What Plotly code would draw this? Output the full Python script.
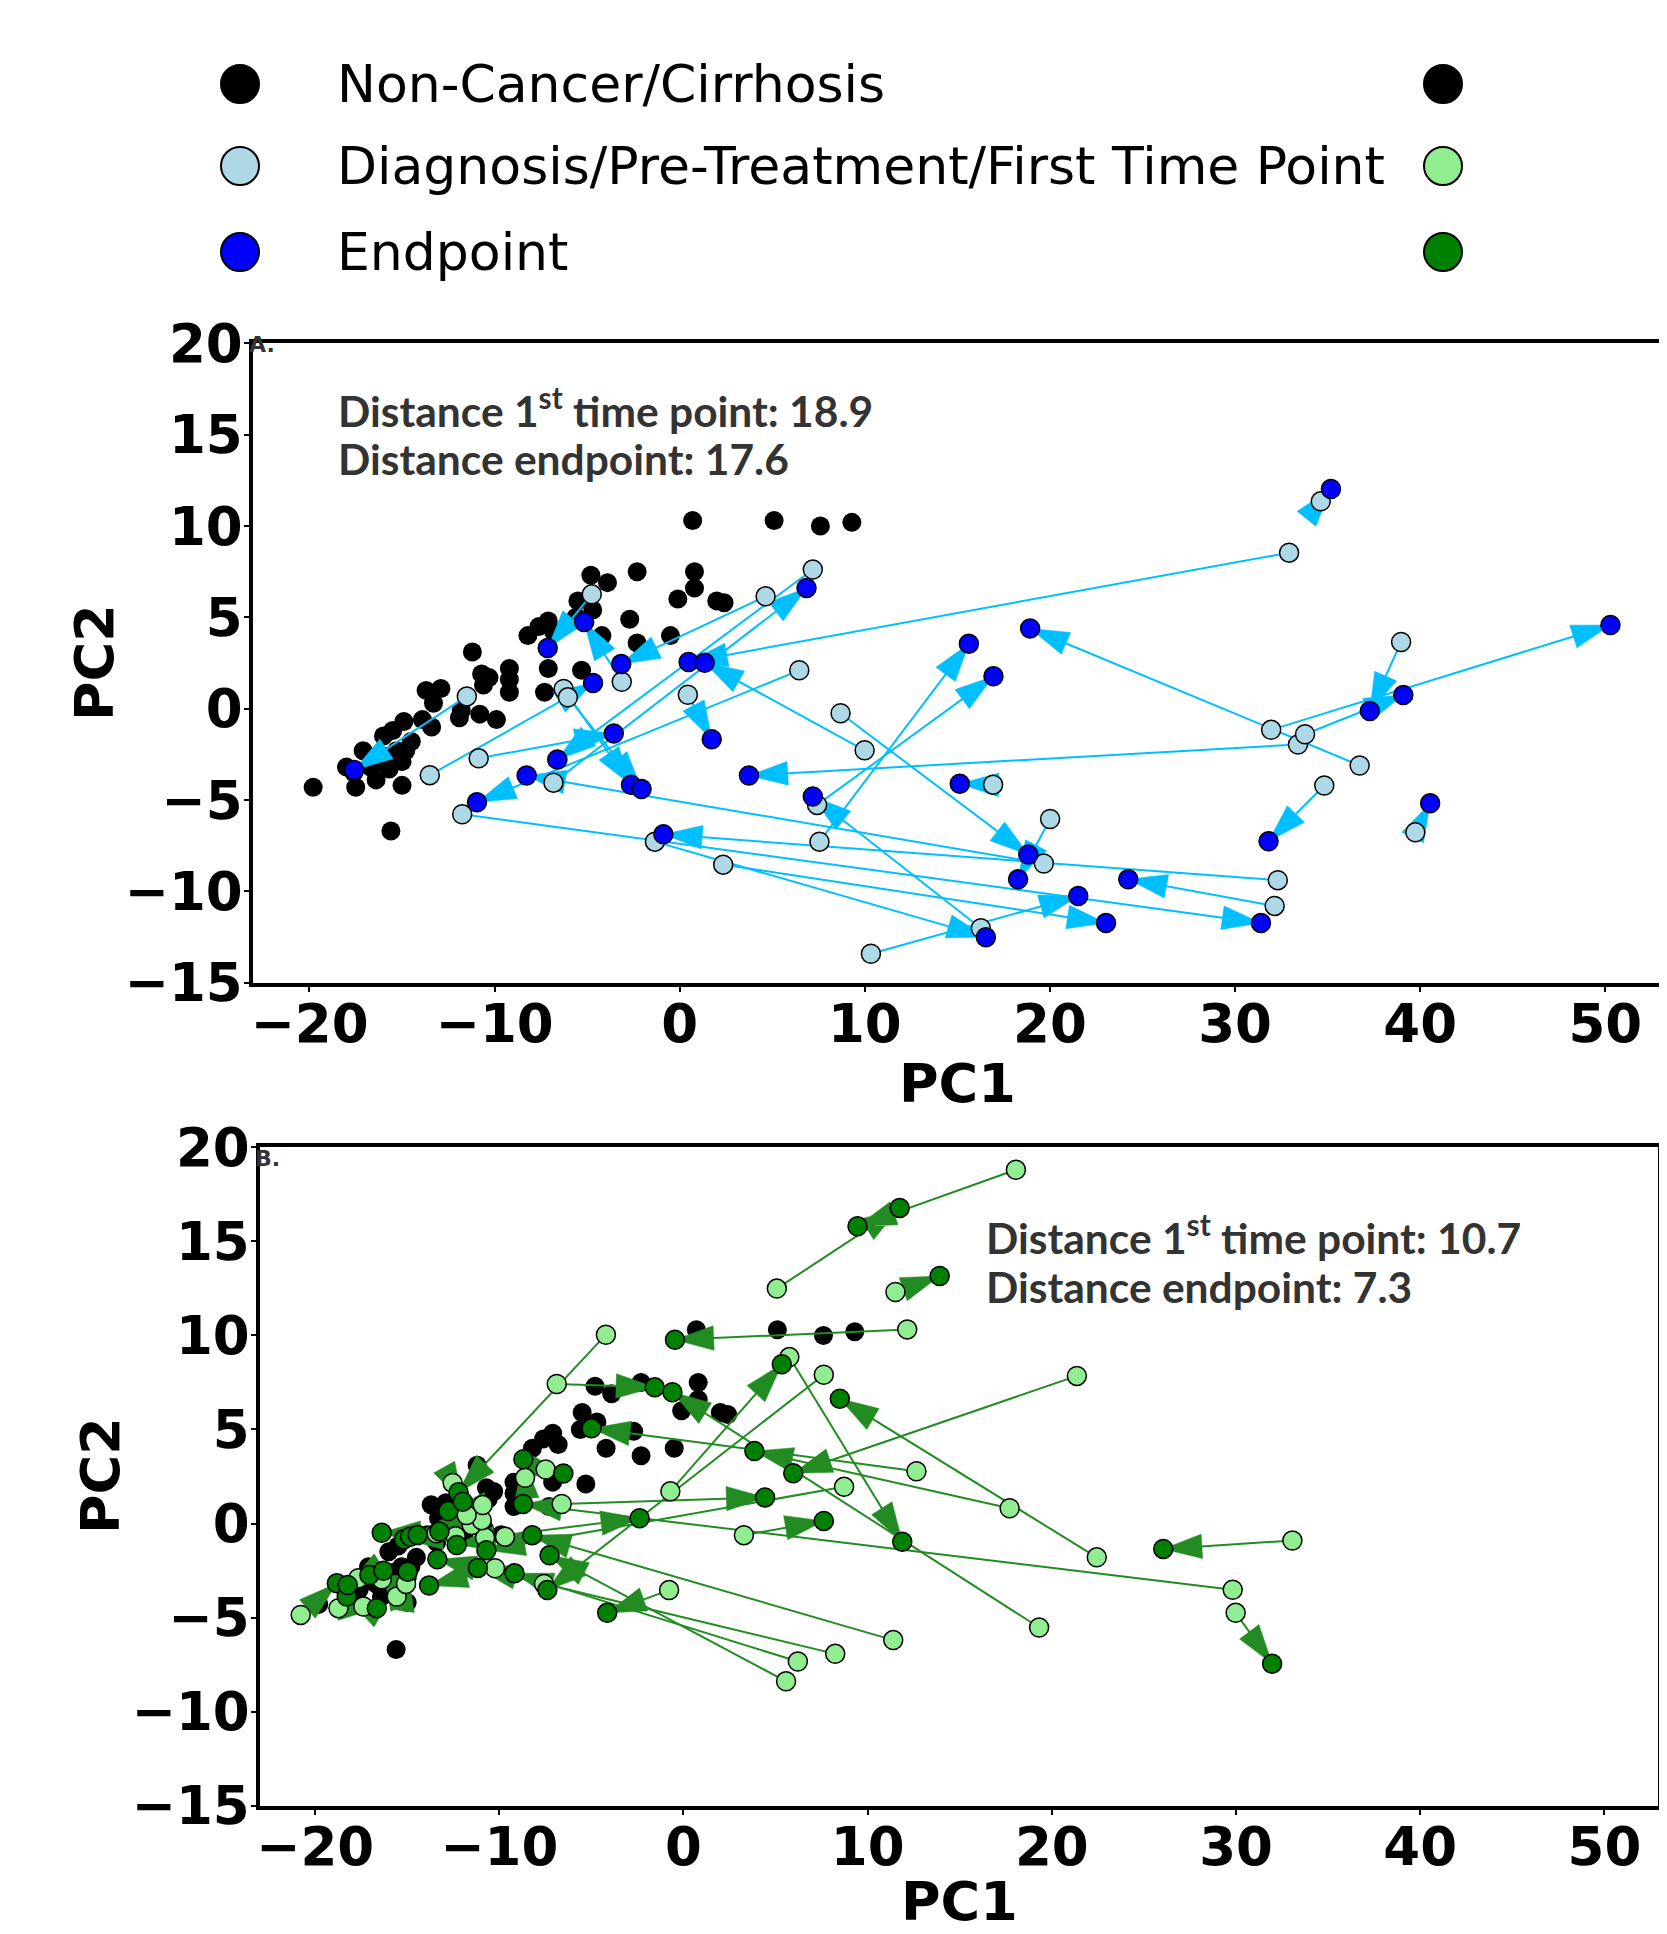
import math
import plotly.graph_objects as go

# ---------------- data ----------------
# Non-cancer / cirrhosis reference samples (shared by both panels)
NC_X = [-19.8, -17.5, -16.4, -15.0, -15.6, -17.1, -18.0, -16.7, -15.7, -15.8, -15.3, -14.8, -14.5,
        -16.0, -15.5, -14.9, -13.9, -13.4, -13.7, -12.9, -13.3, -11.9, -11.8, -10.8, -9.9, -11.2,
        -10.7, -10.3, -10.6, -9.2, -9.2, -9.2, -7.3, -7.1, -5.3, -8.2, -7.6, -7.1, -6.8, -5.5, -4.8,
        -3.9, -4.7, -5.6, -4.2, -2.7, -2.3, -2.3, -0.5, -0.1, 0.8, 0.8, 2.0, 2.4, 0.7, 5.1, 7.6, 9.3,
        -16.2, -15.0, -17.6]
NC_Y = [-4.3, -4.3, -3.9, -4.2, -6.7, -2.3, -3.2, -3.2, -3.3, -2.6, -2.3, -2.3, -1.8,
        -1.5, -1.2, -0.7, -0.6, -1.0, 1.0, 1.1, 0.3, -0.5, -0.1, -0.3, -0.6, 3.1,
        1.9, 1.7, 1.3, 2.2, 1.6, 0.9, 0.9, 2.2, 2.1, 4.0, 4.5, 4.8, 4.2, 5.9, 7.3,
        6.9, 5.4, 5.0, 4.0, 4.9, 3.6, 7.5, 4.0, 6.0, 7.5, 6.6, 5.9, 5.8, 10.3, 10.3, 10.0, 10.2,
        -2.9, -2.9, -3.5]

# Panel A: first time point -> endpoint
A_START_X = [-11.50, -4.75, -3.13, 4.64, -13.50, 32.92, 9.99, -6.82, -10.86, 0.44, 7.19, 19.67,
             6.46, -6.27, -6.04, 33.40, 16.27, 32.31, 34.63, 31.95, 36.73, 38.97, 33.78, 34.82,
             39.74, 20.01, 8.69, 32.14, 10.33, 2.35, -1.34, -11.75, 7.55, 7.42, 16.93]
A_START_Y = [0.67, 6.26, 1.47, 6.15, -3.64, 8.54, -2.28, -4.05, -2.72, 0.76, 7.62, -8.48,
             2.10, 1.08, 0.62, -1.96, -12.02, -9.39, 11.35, -1.16, -3.11, 3.65, -1.40, -4.21,
             -6.77, -6.04, -0.25, -10.80, -13.42, -8.54, -7.28, -5.78, -7.28, -5.27, -4.16]
A_END_X = [-17.59, -7.13, -5.16, -3.16, -4.68, 0.48, 1.35, 6.85, -3.56, 1.73, -6.61, -8.27,
           -10.95, -2.63, -2.06, 3.74, 7.19, -0.88, 35.18, 50.28, 18.93, 37.28, 39.09, 31.81,
           40.54, 18.28, 18.83, 24.23, 21.53, 23.03, 16.54, 31.40, 15.62, 16.95, 15.13]
A_END_Y = [-3.36, 3.32, 4.74, 2.44, 1.41, 2.56, 2.51, 6.61, -1.36, -1.68, -2.79, -3.66,
           -5.13, -4.17, -4.40, -3.66, -4.81, -6.88, 12.03, 4.58, 4.39, -0.13, 0.75, -7.26,
           -5.18, -9.34, -7.99, -9.34, -10.26, -11.73, -12.51, -11.73, 3.56, 1.77, -4.11]

# Panel B: first time point -> endpoint
B_START_X = [18.05, 5.07, 11.51, 12.15, -4.21, -6.88, -0.71, 5.75, 7.62, 22.44, 21.36, 17.71,
             19.31, 29.82, 33.06, 29.98, 3.28, -0.78, -6.61, 12.65, -10.77, 5.57, 6.21, 8.24,
             11.39, 8.72,
             -20.78, -18.73, -17.38, -17.65, -16.38, -15.57, -15.06, -10.23, -13.40, -12.37,
             -11.50, -10.95, -9.69, -7.57, -11.77, -10.90, -12.53, -8.60, -7.48]
B_START_Y = [18.81, 12.49, 12.31, 10.32, 10.04, 7.42, 1.71, 8.85, 7.91, -1.80, 7.85, 0.81,
             -5.53, -3.52, -0.90, -4.75, -0.62, -3.54, 1.04, 2.78, -0.75, -8.39, -7.34, -6.93,
             -6.20, 1.95,
             -4.86, -4.50, -4.41, -2.91, -2.96, -3.88, -3.21, -2.38, -0.52, -0.68,
             -0.08, 0.18, -0.70, -3.21, 0.45, 0.98, 2.16, 2.43, 2.87]
B_END_X = [9.45, 11.74, 13.91, -0.46, -12.21, -1.56, 5.34, 11.88, -7.39, 8.49, 5.96, 3.85,
           -0.60, -8.71, 26.05, 31.96, 7.62, -4.14, 4.43, -4.99, -2.38, -7.27, -9.17, -11.16,
           -8.21, -10.70,
           -18.82, -16.65, -18.28, -18.23, -17.05, -16.29, -14.97, -13.81, -16.38, -15.17,
           -14.84, -14.43, -12.31, -13.36, -13.25, -12.76, -11.98, -8.69, -6.52]
B_END_Y = [15.80, 16.78, 13.16, 9.77, 1.66, 7.24, 8.47, -0.97, -3.54, 6.64, 2.67, 3.85,
           6.98, 1.04, -1.35, -7.45, 0.14, -4.75, 1.39, 5.06, 0.28, -1.69, -2.65, -2.36,
           -0.62, -1.42,
           -3.18, -4.50, -3.88, -3.27, -2.74, -2.51, -2.56, -3.30, -0.49, -0.84,
           -0.70, -0.61, -1.14, -1.90, -0.43, 0.66, 1.16, 3.42, 2.66]

TICKS_X = [-20, -10, 0, 10, 20, 30, 40, 50]
TICKS_Y = [-15, -10, -5, 0, 5, 10, 15, 20]

LEGEND_LABELS = ["Non-Cancer/Cirrhosis",
                 "Diagnosis/Pre-Treatment/First Time Point",
                 "Endpoint"]
LEGEND_LEFT_COLORS = ["black", "lightblue", "blue"]
LEGEND_RIGHT_COLORS = ["black", "lightgreen", "green"]

TEXT_A = ["Distance 1<sup>st</sup> time point: 18.9", "Distance endpoint: 17.6"]
TEXT_B = ["Distance 1<sup>st</sup> time point: 10.7", "Distance endpoint: 7.3"]

# ---------------- layout constants ----------------
W, H = 1667, 1934
OFF = 8  # page body margin: figure origin sits at (8, 8) in the window


def px(x):
    return (x - OFF) / W


def py(y):
    return 1 - (y - OFF) / H


fig = go.Figure()


def arrow_traces(sx, sy, ex, ey, color, xa, ya, hl=2.1, hw=1.3):
    lx, ly, hx, hy = [], [], [], []
    for x0, y0, x1, y1 in zip(sx, sy, ex, ey):
        dx, dy = x1 - x0, y1 - y0
        d = math.hypot(dx, dy)
        ux, uy = dx / d, dy / d
        nx, ny = -uy, ux
        bx, by = x1 - hl * ux, y1 - hl * uy
        lx += [x0, x1, None]
        ly += [y0, y1, None]
        hx += [x1, bx + nx * hw / 2, bx - nx * hw / 2, x1, None]
        hy += [y1, by + ny * hw / 2, by - ny * hw / 2, y1, None]
    fig.add_trace(go.Scatter(x=lx, y=ly, mode="lines", line=dict(color=color, width=2),
                             xaxis=xa, yaxis=ya, hoverinfo="skip", showlegend=False))
    fig.add_trace(go.Scatter(x=hx, y=hy, mode="lines", fill="toself", fillcolor=color,
                             line=dict(color=color, width=0.5),
                             xaxis=xa, yaxis=ya, hoverinfo="skip", showlegend=False))


MS = 19


def panel(xa, ya, sx, sy, ex, ey, c_start, c_end, c_arrow):
    fig.add_trace(go.Scatter(x=NC_X, y=NC_Y, mode="markers",
                             marker=dict(color="black", size=MS, line=dict(width=0)),
                             xaxis=xa, yaxis=ya, showlegend=False))
    arrow_traces(sx, sy, ex, ey, c_arrow, xa, ya)
    fig.add_trace(go.Scatter(x=sx, y=sy, mode="markers",
                             marker=dict(color=c_start, size=MS, line=dict(color="black", width=1.5)),
                             xaxis=xa, yaxis=ya, showlegend=False))
    fig.add_trace(go.Scatter(x=ex, y=ey, mode="markers",
                             marker=dict(color=c_end, size=MS, line=dict(color="black", width=1.5)),
                             xaxis=xa, yaxis=ya, showlegend=False))


panel("x", "y", A_START_X, A_START_Y, A_END_X, A_END_Y, "lightblue", "blue", "deepskyblue")
panel("x2", "y2", B_START_X, B_START_Y, B_END_X, B_END_Y, "lightgreen", "green", "forestgreen")

# legend handles on a hidden axis expressed in window pixels
LEG_ROWS = [84, 166, 252]
fig.add_trace(go.Scatter(x=[240] * 3, y=LEG_ROWS, mode="markers",
                         marker=dict(color=LEGEND_LEFT_COLORS, size=38, line=dict(color="black", width=2)),
                         xaxis="x3", yaxis="y3", showlegend=False, hoverinfo="skip"))
fig.add_trace(go.Scatter(x=[1443] * 3, y=LEG_ROWS, mode="markers",
                         marker=dict(color=LEGEND_RIGHT_COLORS, size=38, line=dict(color="black", width=2)),
                         xaxis="x3", yaxis="y3", showlegend=False, hoverinfo="skip"))

tickfont = dict(family="DejaVu Sans", size=53, color="black", weight="bold")
common_axis = dict(showline=True, linewidth=3.5, linecolor="black", mirror=True,
                   ticks="outside", ticklen=5, tickwidth=1.5, tickcolor="black",
                   showgrid=False, zeroline=False, tickfont=tickfont, automargin=False)

fig.update_layout(
    width=W, height=H,
    margin=dict(l=0, r=0, t=0, b=0, pad=0, autoexpand=False),
    paper_bgcolor="white", plot_bgcolor="white",
    showlegend=False,
    xaxis=dict(domain=[px(253), px(1661)], range=[-23.05, 53.01], tickvals=TICKS_X,
               anchor="y", ticklabelstandoff=-13, **common_axis),
    yaxis=dict(domain=[py(983), py(343)], range=[-15.02, 20.02], tickvals=TICKS_Y,
               anchor="x", ticklabelstandoff=-9, **common_axis),
    xaxis2=dict(domain=[px(260), px(1658)], range=[-22.99, 52.91], tickvals=TICKS_X,
                anchor="y2", ticklabelstandoff=-13, **common_axis),
    yaxis2=dict(domain=[py(1806), py(1147)], range=[-15.02, 20.02], tickvals=TICKS_Y,
                anchor="x2", ticklabelstandoff=-9, **common_axis),
    xaxis3=dict(domain=[0, 1], range=[OFF, W + OFF], visible=False, anchor="y3", automargin=False),
    yaxis3=dict(domain=[py(330), 1], range=[330, OFF], visible=False, anchor="x3", automargin=False),
)

ann = []
for lab, yy in zip(LEGEND_LABELS, LEG_ROWS):
    ann.append(dict(x=px(335), y=py(yy), xref="paper", yref="paper", text=lab, showarrow=False,
                    xanchor="left", yanchor="middle",
                    font=dict(family="DejaVu Sans", size=52, color="black")))

dist_font = dict(family="Lato", size=42.5, color="#333333", weight="bold")
for t, yy in zip(TEXT_A, [408, 459]):
    ann.append(dict(x=px(336), y=py(yy), xref="paper", yref="paper", text=t, showarrow=False,
                    xanchor="left", yanchor="middle", font=dist_font))
for t, yy in zip(TEXT_B, [1235, 1286]):
    ann.append(dict(x=px(984), y=py(yy), xref="paper", yref="paper", text=t, showarrow=False,
                    xanchor="left", yanchor="middle", font=dist_font))

lab_font = dict(family="DejaVu Sans", size=22, color="#333333", weight="bold")
ann.append(dict(x=px(247), y=py(344), xref="paper", yref="paper", text="A.", showarrow=False,
                xanchor="left", yanchor="middle", font=lab_font))
ann.append(dict(x=px(253), y=py(1158), xref="paper", yref="paper", text="B.", showarrow=False,
                xanchor="left", yanchor="middle", font=lab_font))

title_font = dict(family="DejaVu Sans", size=54, color="black", weight="bold")
ann.append(dict(x=px(957), y=py(1083), xref="paper", yref="paper", text="PC1", showarrow=False,
                xanchor="center", yanchor="middle", font=title_font))
ann.append(dict(x=px(94), y=py(663), xref="paper", yref="paper", text="PC2", showarrow=False,
                xanchor="center", yanchor="middle", textangle=-90, font=title_font))
ann.append(dict(x=px(959), y=py(1901), xref="paper", yref="paper", text="PC1", showarrow=False,
                xanchor="center", yanchor="middle", font=title_font))
ann.append(dict(x=px(100), y=py(1476), xref="paper", yref="paper", text="PC2", showarrow=False,
                xanchor="center", yanchor="middle", textangle=-90, font=title_font))

fig.update_layout(annotations=ann)
fig.write_html("out.html")
